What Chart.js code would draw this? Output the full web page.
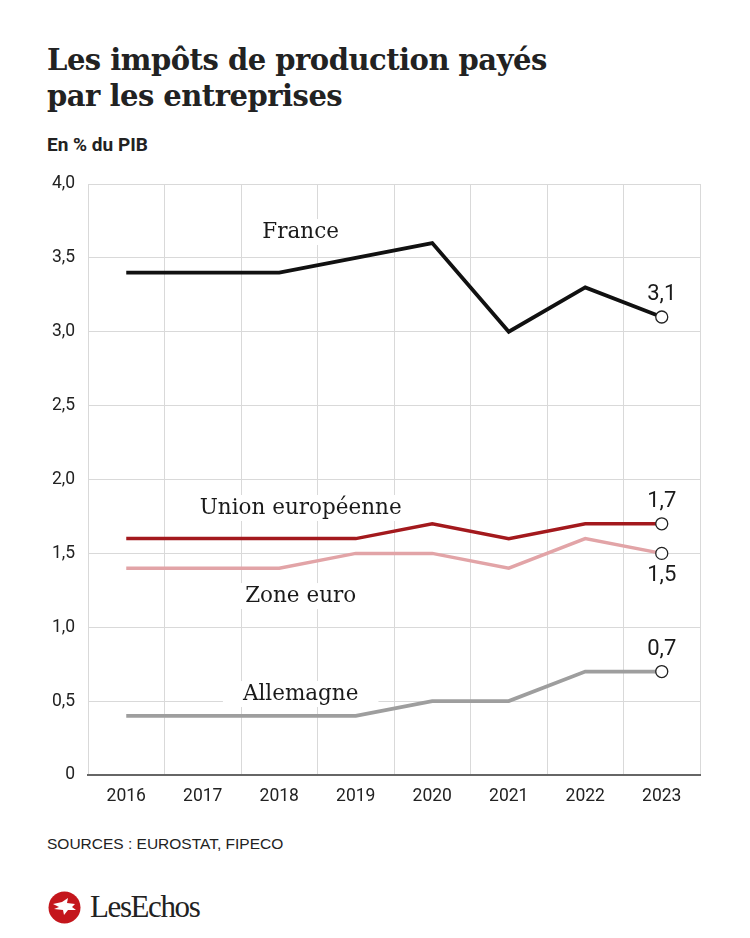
<!DOCTYPE html>
<html>
<head>
<meta charset="utf-8">
<script src="https://cdn.jsdelivr.net/npm/chart.js@4.4.0/dist/chart.umd.min.js"></script>
<style>
  body { margin: 0; background: #fff; width: 750px; height: 938px; position: relative; overflow: hidden; }
  h1 { position: absolute; left: 47px; top: 42px; margin: 0; font: bold 29px/36px "DejaVu Serif", serif; color: #222; letter-spacing: -0.5px; }
  .sub { position: absolute; left: 47px; top: 133px; font: bold 19px "Roboto", sans-serif; color: #222; }
  #wrap { position: absolute; left: 0; top: 160px; width: 750px; height: 660px; }
  .src { position: absolute; left: 47px; top: 835px; font: 15.5px "Liberation Sans", sans-serif; color: #222; }
  .logo { position: absolute; left: 48px; top: 889px; display: flex; align-items: center; }
  .logo span { font: 31px "Liberation Serif", serif; color: #222; margin-left: 9px; letter-spacing: -1.4px; }
</style>
</head>
<body>
<h1>Les impôts de production payés<br>par les entreprises</h1>
<div class="sub">En % du PIB</div>
<div id="wrap"><canvas id="myChart" width="750" height="660"></canvas></div>
<div class="src">SOURCES : EUROSTAT, FIPECO</div>
<div class="logo">
  <svg width="33" height="33" viewBox="0 0 33 33">
    <circle cx="16.5" cy="16.5" r="16" fill="#c4161c"/>
    <path d="M5 13 L14 11 L20 7 L19 12 L27 13 L24 16 L28 19 L20 19 L16 24 L15 19 L6 18 L11 16 Z" fill="#fff"/>
  </svg>
  <span>LesEchos</span>
</div>
<script>
var years = ["2016", "2017", "2018", "2019", "2020", "2021", "2022", "2023"];
var france = [3.4, 3.4, 3.4, 3.5, 3.6, 3.0, 3.3, 3.1];
var unionEuropeenne = [1.6, 1.6, 1.6, 1.6, 1.7, 1.6, 1.7, 1.7];
var zoneEuro = [1.4, 1.4, 1.4, 1.5, 1.5, 1.4, 1.6, 1.5];
var allemagne = [0.4, 0.4, 0.4, 0.4, 0.5, 0.5, 0.7, 0.7];
var yTicks = [0, 0.5, 1, 1.5, 2, 2.5, 3, 3.5, 4];

// series names placed in the chart (x = category index, y = value)
var seriesLabels = [
  { text: "France", x: 2.28, y: 3.675 },
  { text: "Union européenne", x: 2.28, y: 1.807 },
  { text: "Zone euro", x: 2.28, y: 1.211 },
  { text: "Allemagne", x: 2.28, y: 0.548 }
];

function fmt(v) {
  return v === 0 ? "0" : v.toFixed(1).replace(".", ",");
}

function lastOnly(r) {
  return function(c) { return c.dataIndex === years.length - 1 ? r : 0; };
}

function makeSet(label, data, color, width, below) {
  return {
    label: label,
    data: data,
    borderColor: color,
    borderWidth: width,
    pointRadius: lastOnly(6),
    pointHoverRadius: lastOnly(6),
    pointBackgroundColor: "#fff",
    pointBorderColor: "#222",
    pointBorderWidth: 1.3,
    tension: 0,
    below: below
  };
}

var labelPlugin = {
  id: "labels",
  beforeDatasetsDraw: function(chart) {
    var c = chart.ctx, xs = chart.scales.x, ys = chart.scales.y;
    c.save();
    c.font = '21.5px "DejaVu Serif", serif';
    c.textAlign = "center";
    c.textBaseline = "middle";
    seriesLabels.forEach(function(l) {
      var px = xs.getPixelForValue(l.x), py = ys.getPixelForValue(l.y);
      var w = c.measureText(l.text).width;
      c.fillStyle = "#fff";
      c.fillRect(px - w / 2 - 20, py - 13, w + 40, 26);
      c.fillStyle = "#1a1a1a";
      c.fillText(l.text, px, py);
    });
    c.restore();
  },
  afterDatasetsDraw: function(chart) {
    var c = chart.ctx;
    c.save();
    c.font = '22px "Roboto", sans-serif';
    c.textAlign = "center";
    c.textBaseline = "middle";
    c.fillStyle = "#1a1a1a";
    chart.data.datasets.forEach(function(ds, i) {
      var last = ds.data.length - 1;
      var pt = chart.getDatasetMeta(i).data[last];
      var dy = ds.below ? 22 : -22;
      c.fillText(fmt(ds.data[last]), pt.x, pt.y + dy);
    });
    c.restore();
  }
};

var ctx = document.getElementById("myChart");

var myChart = new Chart(ctx, {
  type: "line",
  data: {
    labels: years,
    datasets: [
      makeSet("France", france, "#111111", 3.8, false),
      makeSet("Union européenne", unionEuropeenne, "#a3191d", 3.5, false),
      makeSet("Zone euro", zoneEuro, "#e2a4a7", 3.5, true),
      makeSet("Allemagne", allemagne, "#9e9e9e", 3.8, false)
    ]
  },
  plugins: [labelPlugin],
  options: {
    responsive: false,
    animation: false,
    layout: { padding: { top: 24, right: 50, left: 0, bottom: 0 } },
    plugins: {
      legend: { display: false },
      tooltip: { enabled: false }
    },
    scales: {
      x: {
        offset: true,
        grid: { offset: true, color: "#d9d9d9", lineWidth: 1, drawTicks: false },
        border: { display: true, color: "#666", width: 2 },
        ticks: { color: "#222", padding: 11, font: { family: "Roboto", size: 17.5 } },
        afterFit: function(s) { s.height = 45; }
      },
      y: {
        min: 0,
        max: 4,
        afterBuildTicks: function(s) { s.ticks = yTicks.map(function(v) { return { value: v }; }); },
        grid: { color: "#d9d9d9", lineWidth: 1, drawTicks: false },
        border: { display: false },
        ticks: {
          color: "#222",
          padding: 13,
          font: { family: "Roboto", size: 17.5 },
          callback: function(v) { return fmt(v); }
        },
        afterFit: function(s) { s.width = 88; }
      }
    }
  }
});
</script>
</body>
</html>
